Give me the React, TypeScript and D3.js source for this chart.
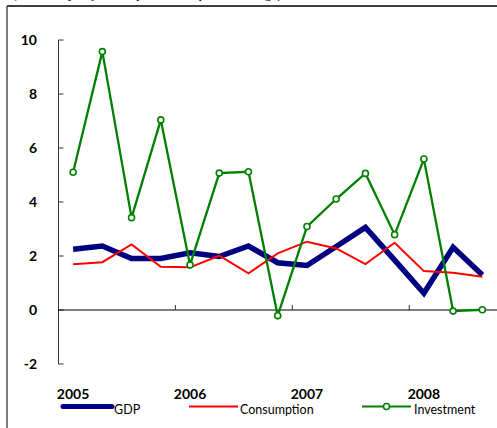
import React from "react";
import * as d3 from "d3";

const quarters = ["2005Q1","2005Q2","2005Q3","2005Q4","2006Q1","2006Q2","2006Q3","2006Q4","2007Q1","2007Q2","2007Q3","2007Q4","2008Q1","2008Q2","2008Q3"];
const gdp = [2.25, 2.37, 1.91, 1.91, 2.12, 1.98, 2.37, 1.75, 1.65, 2.35, 3.06, 1.85, 0.62, 2.32, 1.3];
const consumption = [1.69, 1.77, 2.43, 1.6, 1.58, 2.01, 1.36, 2.1, 2.53, 2.28, 1.7, 2.49, 1.44, 1.38, 1.23];
const investment = [5.1, 9.57, 3.42, 7.04, 1.67, 5.07, 5.12, -0.21, 3.09, 4.11, 5.06, 2.79, 5.59, -0.04, 0.01];
const yTicks = [-2, 0, 2, 4, 6, 8, 10];
const yearLabels = ["2005", "2006", "2007", "2008"];
const subtitle = "(seasonally adjusted, quarter-on-quarter change)";

export default function App() {
  const W = 497, H = 428;
  const x = d3.scaleLinear().domain([0, 16]).range([58.5, 58.5 + 16 * 29.23]);
  const y = d3.scaleLinear().domain([-2, 10]).range([364, 40]);
  const px = (i: number) => x(i + 0.5);
  const line = d3.line<number>().x((_, i) => px(i)).y((d) => y(d));
  const tickFont = "Lato, 'DejaVu Sans', sans-serif";

  return (
    <svg width={W} height={H} style={{ position: "absolute", left: 0, top: 0, background: "#fff" }}>
      <text x={12} y={-2} fontFamily="'Liberation Serif', serif" fontSize={14} fill="#000">{subtitle}</text>
      {/* frame */}
      <line x1={7} x2={W} y1={6} y2={6} stroke="#000" strokeWidth={1.5} />
      <line x1={7} x2={7} y1={6} y2={H} stroke="#333" strokeWidth={1.3} />
      {/* y axis */}
      <line x1={x(0)} x2={x(0)} y1={y(10)} y2={y(-2)} stroke="#333" strokeWidth={1} />
      {yTicks.map((t) => (
        <g key={t}>
          <line x1={x(0)} x2={x(0) + 5} y1={y(t)} y2={y(t)} stroke="#333" strokeWidth={1} />
          <text x={37} y={y(t)} dy="0.35em" textAnchor="end" fontFamily={tickFont} fontWeight={700} fontSize={14} fill="#000">{t}</text>
        </g>
      ))}
      {/* zero line */}
      <line x1={x(0)} x2={W} y1={y(0)} y2={y(0)} stroke="#000" strokeWidth={1} />
      {[4, 8, 12].map((q) => (
        <line key={q} x1={x(q)} x2={x(q)} y1={y(0)} y2={y(0) - 5} stroke="#333" strokeWidth={1} />
      ))}
      {yearLabels.map((lab, k) => (
        <text key={lab} x={px(k * 4)} y={399} textAnchor="middle" fontFamily={tickFont} fontWeight={700} fontSize={14} fill="#000">{lab}</text>
      ))}
      {/* series */}
      <path d={line(gdp) || ""} fill="none" stroke="#000080" strokeWidth={5.5} strokeLinejoin="miter" />
      <path d={line(consumption) || ""} fill="none" stroke="#ff0000" strokeWidth={2} />
      <path d={line(investment) || ""} fill="none" stroke="#008000" strokeWidth={2.3} />
      {investment.map((v, i) => (
        <circle key={quarters[i]} cx={px(i)} cy={y(v)} r={3} fill="#fff" stroke="#008000" strokeWidth={1.6} />
      ))}
      {/* legend */}
      <g fontFamily={tickFont} fontSize={12.5} fill="#000">
        <line x1={63} x2={112} y1={406.5} y2={406.5} stroke="#000080" strokeWidth={5} strokeLinecap="round" />
        <text x={114} y={414}>GDP</text>
        <line x1={189} x2={238} y1={406.5} y2={406.5} stroke="#ff0000" strokeWidth={2} />
        <text x={240} y={414}>Consumption</text>
        <line x1={362} x2={411} y1={406.5} y2={406.5} stroke="#008000" strokeWidth={2} />
        <circle cx={386.5} cy={406.5} r={3} fill="#fff" stroke="#008000" strokeWidth={1.6} />
        <text x={414} y={414}>Investment</text>
      </g>
    </svg>
  );
}
